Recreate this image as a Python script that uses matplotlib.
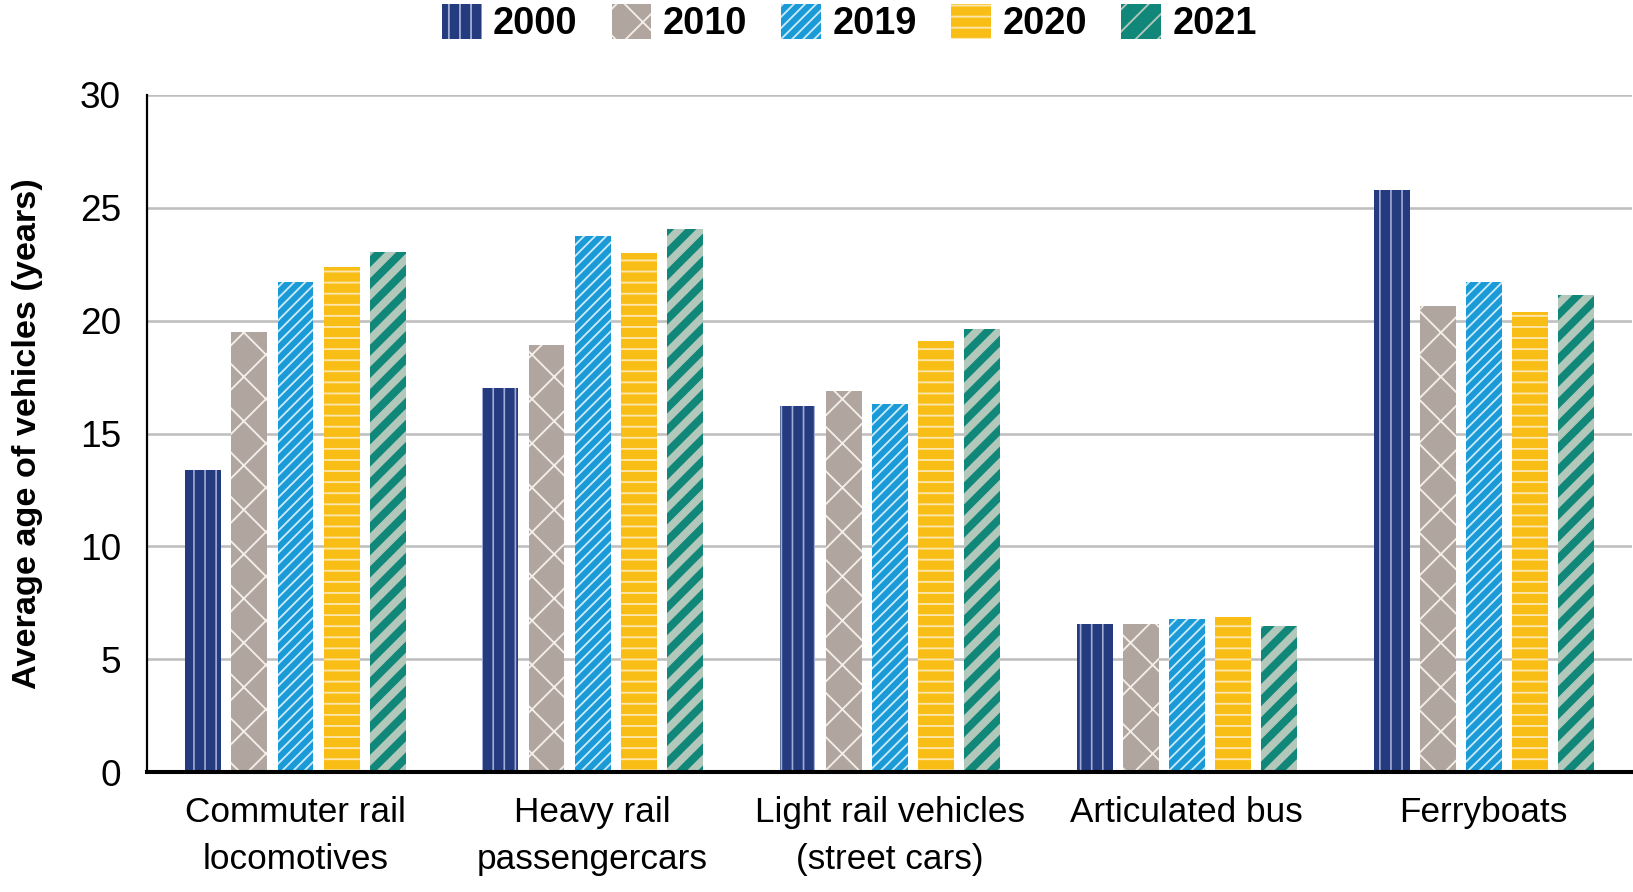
import matplotlib
matplotlib.use("Agg")
import matplotlib.pyplot as plt
import numpy as np

# Average age of transit vehicles, by type and year
categories = ["Commuter rail\nlocomotives", "Heavy rail\npassengercars",
              "Light rail vehicles\n(street cars)", "Articulated bus", "Ferryboats"]
years = ["2000", "2010", "2019", "2020", "2021"]
age_2000 = [13.4, 17.0, 16.2, 6.55, 25.8]
age_2010 = [19.5, 18.9, 16.9, 6.55, 20.65]
age_2019 = [21.7, 23.75, 16.3, 6.8, 21.7]
age_2020 = [22.4, 23.0, 19.1, 6.85, 20.4]
age_2021 = [23.05, 24.05, 19.65, 6.45, 21.15]
series = [age_2000, age_2010, age_2019, age_2020, age_2021]

# face colour, hatch colour, hatch pattern, hatch width
styles = [
    ("#253B80", "#A3ADD3", "||", 0.9),
    ("#B0A69F", "#F4EEE8", "x", 1.0),
    ("#1A9AD7", "#CBEAF8", "////", 1.0),
    ("#F9BE16", "#FCE6AC", "--", 1.0),
    ("#11877A", "#B2C8BB", "//", 4.2),
]

plt.rcParams['font.family'] = ['Liberation Sans', 'DejaVu Sans']

dpi = 133.33
fig = plt.figure(figsize=(1633 / dpi, 892 / dpi), dpi=dpi)
ax = fig.add_axes([0.090, 0.1345, 0.9095, 0.759])

x = np.arange(len(categories))
slot = 0.155
width = 0.121
handles = []
for i, (vals, (fc, hc, hatch, hlw)) in enumerate(zip(series, styles)):
    with plt.rc_context({'hatch.linewidth': hlw}):
        bars = ax.bar(x + (i - 2) * slot, vals, width, color=fc, edgecolor=hc,
                      hatch=hatch, linewidth=0, label=years[i], zorder=3)
    for b in bars:
        if hasattr(b, "set_hatch_linewidth"):
            b.set_hatch_linewidth(hlw)
    handles.append(bars)

ax.set_xlim(-0.5, 4.5)
ax.set_ylim(0, 30)
ax.set_yticks(range(0, 31, 5))
ax.yaxis.grid(True, color="#BFBFBF", linewidth=1.4, zorder=0)
ax.set_axisbelow(True)
for s in ["top", "right"]:
    ax.spines[s].set_visible(False)
ax.spines["left"].set_linewidth(1.2)
ax.spines["bottom"].set_linewidth(2.2)
ax.spines["bottom"].set_zorder(4)

ax.set_xticks(x)
ax.set_xticklabels(categories, fontsize=19, linespacing=1.55)
ax.tick_params(axis="x", length=0, pad=13)
ax.tick_params(axis="y", length=0, pad=14, labelsize=20)
ax.set_ylabel("Average age of vehicles (years)", fontsize=18.5, fontweight="bold", labelpad=20)

leg = fig.legend(handles, years, loc="center", bbox_to_anchor=(0.52, 0.974), ncol=5,
                 frameon=False, handlelength=1.05, handleheight=1.05, handletextpad=0.3,
                 columnspacing=0.9, prop={'size': 20.5, 'weight': 'bold'})

fig.savefig("out.png", dpi=dpi)
